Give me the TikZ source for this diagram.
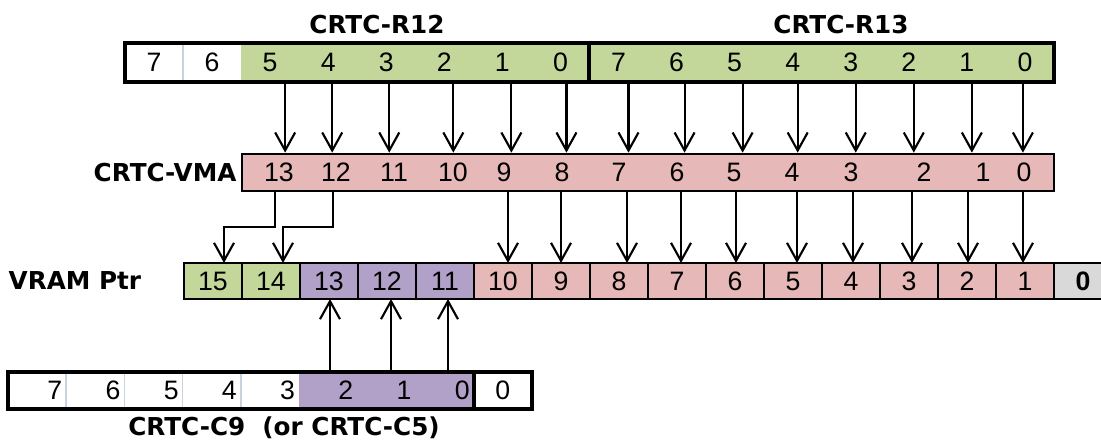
\documentclass[tikz,border=0pt]{standalone}
\usepackage{fontspec}
\newfontfamily\digitfont{Liberation Sans}
\newfontfamily\labelfont{DejaVu Sans}
\usetikzlibrary{arrows.meta,positioning,calc}
\definecolor{regGreen}{HTML}{C4D79B}
\definecolor{vmaPink}{HTML}{E6B8B7}
\definecolor{regPurple}{HTML}{B1A0C7}
\definecolor{ptrGray}{HTML}{D9D9D9}
\definecolor{divGray}{HTML}{C8D3E0}
\tikzset{
  bitcell/.style={minimum width=43.55pt, minimum height=29.25pt, inner sep=0pt,
    outer sep=0pt, font=\digitfont\fontsize{20}{23}\selectfont},
  ptrcell/.style={draw, line width=1.5pt, minimum width=43.5pt, minimum height=27pt,
    inner sep=0pt, outer sep=0pt, font=\digitfont\fontsize{20}{23}\selectfont},
  c9cell/.style={minimum height=27.75pt, text width=37.65pt, inner xsep=3pt,
    inner ysep=0pt, outer sep=0pt, align=right, font=\digitfont\fontsize{20}{23}\selectfont},
  vmadigit/.style={inner sep=0pt, font=\digitfont\fontsize{20}{23}\selectfont},
  reglabel/.style={inner sep=0pt, font=\labelfont\bfseries\fontsize{18.5}{21}\selectfont},
  arrow/.style={-{Straight Barb[length=13.5pt,width=15pt]}, line width=1.6pt},
  divider/.style={draw=divGray, line width=1.2pt},
  outline/.style={line width=3pt}
}
\begin{document}
\begin{tikzpicture}[x=0.75pt, y=-0.75pt]
    \useasboundingbox (0,0) rectangle (1101,441);
    \clip (0,0) rectangle (1101,441);
    % R12 / R13
    \foreach \b/\c [count=\i from 0] in {7/white,6/white,5/regGreen,4/regGreen,3/regGreen,2/regGreen,1/regGreen,0/regGreen}
      \node[bitcell, fill=\c] (r12-\b) at ({125+58.06*(\i+0.5)},62.5) {\b};
    \foreach \b [count=\i from 8] in {7,...,0}
      \node[bitcell, fill=regGreen] (r13-\b) at ({125+58.06*(\i+0.5)},62.5) {\b};
    \draw[divider] (r12-7.north east) -- (r12-7.south east);
    \draw[outline] (r12-7.north west) rectangle (r13-0.south east);
    \draw[outline] (r12-0.north east) -- (r12-0.south east);
    \node[reglabel] (r12lbl) at (377,25) {CRTC-R12};
    \node[reglabel] (r13lbl) at (841,25) {CRTC-R13};
    % VMA
    \node[draw, fill=vmaPink, line width=2pt, minimum width=609pt, minimum height=27.75pt,
      inner sep=0pt] (vma) at (648,172.5) {};
    \foreach \b/\x in {13/279,12/336,11/394,10/453,9/504,8/562,7/619,6/677,5/734,4/792,3/851,2/924,1/983,0/1024}
      \node[vmadigit] (vma-\b) at (\x,172.5) {\b};
    \node[reglabel, left=3pt of vma] (vmalbl) {CRTC-VMA};
    \foreach \a/\d in {r12-5/15,r12-4/4,r12-3/3,r12-2/9,r12-1/9,r12-0/6,r13-7/10,r13-6/8,r13-5/8,r13-4/5,r13-3/5,r13-2/5,r13-1/5,r13-0/-2}
      \draw[arrow] ([xshift=\d*0.75pt]\a.south) -- ([xshift=\d*0.75pt]\a.south |- vma.north);
    % VRAM pointer
    \foreach \b/\c [count=\i from 0] in {15/regGreen,14/regGreen,13/regPurple,12/regPurple,11/regPurple,10/vmaPink,9/vmaPink,8/vmaPink,7/vmaPink,6/vmaPink,5/vmaPink,4/vmaPink,3/vmaPink,2/vmaPink,1/vmaPink}
      \node[ptrcell, fill=\c] (vr-\b) at ({184+58*(\i+0.5)},281) {\b};
    \node[ptrcell, fill=ptrGray, font=\digitfont\bfseries\fontsize{20}{23}\selectfont] (vr-0) at ({184+58*15.5},281) {0};
    \node[reglabel, left=32pt of vr-15] (ptrlbl) {VRAM Ptr};
    \draw[arrow] ([xshift=-3pt]vma.south -| vma-13) |- ([xshift=8.25pt,yshift=27pt]vr-15.north) -- ([xshift=8.25pt]vr-15.north);
    \draw[arrow] ([xshift=-2.25pt]vma.south -| vma-12) |- ([xshift=9pt,yshift=27pt]vr-14.north) -- ([xshift=9pt]vr-14.north);
    \foreach \a/\d in {10/5,9/0,8/8,7/4,6/1,5/4,4/2,3/3,2/1,1/-2}
      \draw[arrow] ([xshift=\d*0.75pt]vma.south -| vr-\a) -- ([xshift=\d*0.75pt]vr-\a.north);
    % C9
    \foreach \b/\c [count=\i from 0] in {7/white,6/white,5/white,4/white,3/white,2/regPurple,1/regPurple,0/regPurple}
      \node[c9cell, fill=\c] (c9-\b) at ({8+58.2*(\i+0.5)},390.5) {\b};
    \node[bitcell, minimum height=27.75pt, minimum width=43.65pt, fill=white] (c9-low) at ({8+58.2*8.5},390.5) {0};
    \foreach \b in {7,6,5,4}
      \draw[divider] (c9-\b.north east) -- (c9-\b.south east);
    \draw[outline] (c9-7.north west) rectangle (c9-low.south east);
    \draw[outline] (c9-0.north east) -- (c9-0.south east);
    \node[reglabel] (c9lbl) at (284,428) {CRTC-C9\ \ (or CRTC-C5)};
    \foreach \a/\b/\d in {2/13/1,1/12/4,0/11/3}
      \draw[arrow] ([xshift=\d*0.75pt]c9-\a.north -| vr-\b) -- ([xshift=\d*0.75pt]vr-\b.south);
\end{tikzpicture}
\end{document}
